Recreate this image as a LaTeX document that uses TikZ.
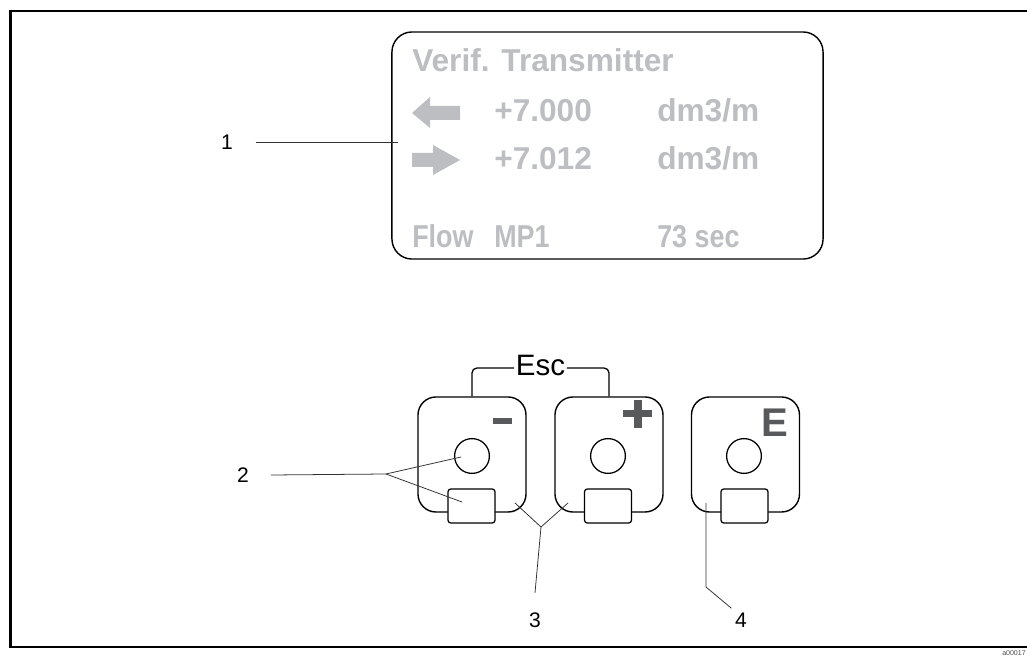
\documentclass[tikz,border=0pt]{standalone}
\usepackage{fontspec}
\setmainfont{Liberation Sans}
\definecolor{lcdgray}{RGB}{189,190,194}
\definecolor{keygray}{RGB}{88,89,91}
\begin{document}
\begin{tikzpicture}[
    x=0.025cm, y=-0.025cm,
    lcd/.style={draw, line width=1pt, rounded corners=0.5cm, minimum width=10.775cm, minimum height=5.675cm},
    lcdtxt/.style={anchor=base west, inner sep=0pt, text=lcdgray, font=\fontsize{22.5}{25}\selectfont\bfseries},
    btn/.style={draw, line width=1pt, rounded corners=0.45cm, minimum width=2.7cm, minimum height=2.875cm},
    eye/.style={draw, line width=0.9pt, circle, minimum size=0.87cm, inner sep=0pt},
    pad/.style={draw, line width=0.9pt, fill=white, rounded corners=2pt, minimum width=1.175cm, minimum height=0.85cm, inner sep=0pt},
    num/.style={font=\fontsize{15}{18}\selectfont, inner sep=1pt},
    lead/.style={line width=0.55pt, black!80},
    bracket/.style={line width=0.9pt, rounded corners=3.5pt},
]
\useasboundingbox (0,0) rectangle (1027,656);
% Frame
\draw[line width=2pt] (1027,11) -- (10.5,11) -- (10.5,647) -- (1027,647);
\node[anchor=base east, inner sep=0pt, font=\fontsize{5}{6}\selectfont, text=black!70] (code) at (1026,655.5) {a00017};
% Display
\node[lcd] (display) at (607.5,145.5) {};
\node[lcdtxt] (title) at (412,72) {Verif. Transmitter};
\node[lcdtxt] (vala) at (494,122) {+7.000};
\node[lcdtxt] (unita) at (657,122) {dm3/m};
\node[lcdtxt] (valb) at (494,170) {+7.012};
\node[lcdtxt] (unitb) at (657,170) {dm3/m};
\node[lcdtxt] (flow) at (412,247) {\scalebox{0.85}[1]{Flow}};
\node[lcdtxt] (mp) at (494,247) {\scalebox{0.85}[1]{MP1}};
\node[lcdtxt] (secs) at (657,247) {\scalebox{0.85}[1]{73 sec}};
\fill[lcdgray] (412,113) -- (430,97) -- (430,106) -- (460,106) -- (460,120) -- (430,120) -- (430,128) -- cycle;
\fill[lcdgray] (460,160) -- (433,145) -- (433,153) -- (412,153) -- (412,167) -- (433,167) -- (433,175) -- cycle;
% Keys
\node[btn] (minus) at (472,454.5) {};
\node[btn] (plus) at (609,454.5) {};
\node[btn] (enter) at (745.5,454.5) {};
\node[eye] (eyem) at (472,456) {};
\node[eye] (eyep) at (608,456) {};
\node[eye] (eyee) at (744,456) {};
\node[pad] (padm) at (471.5,506) {};
\node[pad] (padp) at (608,506) {};
\node[pad] (pade) at (744.5,506) {};
\fill[keygray] (493,418) rectangle (512,424);
\fill[keygray] (623,410) rectangle (652,417);
\fill[keygray] (634,400) rectangle (642,428);
\node[anchor=base, inner sep=0pt, text=keygray, font=\fontsize{28.5}{30}\selectfont\bfseries] (elabel) at (774.5,436) {E};
% Esc bracket
\node[anchor=base, inner sep=1pt, font=\fontsize{21}{24}\selectfont] (esc) at (540.5,375) {Esc};
\draw[bracket] (esc.west |- 0,368) -| (minus.north);
\draw[bracket] (esc.east |- 0,368) -| (plus.north);
% Callouts
\node[num] (lbl1) at (227,142) {1};
\node[num] (lbl2) at (243,475) {2};
\node[num] (lbl3) at (535,620) {3};
\node[num] (lbl4) at (741,620) {4};
\coordinate (tip1) at (398,142);
\coordinate (fork2) at (386,474);
\coordinate (tip2a) at (461,457);
\coordinate (tip2b) at (462,502);
\coordinate (fork3) at (541,527);
\coordinate (tip3a) at (515,503);
\coordinate (tip3b) at (568,503);
\coordinate (tip4) at (706,503);
\coordinate (bend4) at (706,587);
\draw[lead] ([xshift=15pt]lbl1.east) -- (tip1);
\draw[lead] ([xshift=14.5pt]lbl2.east) -- (fork2) -- (tip2a);
\draw[lead] (fork2) -- (tip2b);
\draw[lead] ([yshift=12.8pt]lbl3.north) -- (fork3) -- (tip3a);
\draw[lead] (fork3) -- (tip3b);
\draw[lead] (tip4) -- (bend4) -- ([shift={(-1.5pt,2pt)}]lbl4.north west);
\end{tikzpicture}
\end{document}
